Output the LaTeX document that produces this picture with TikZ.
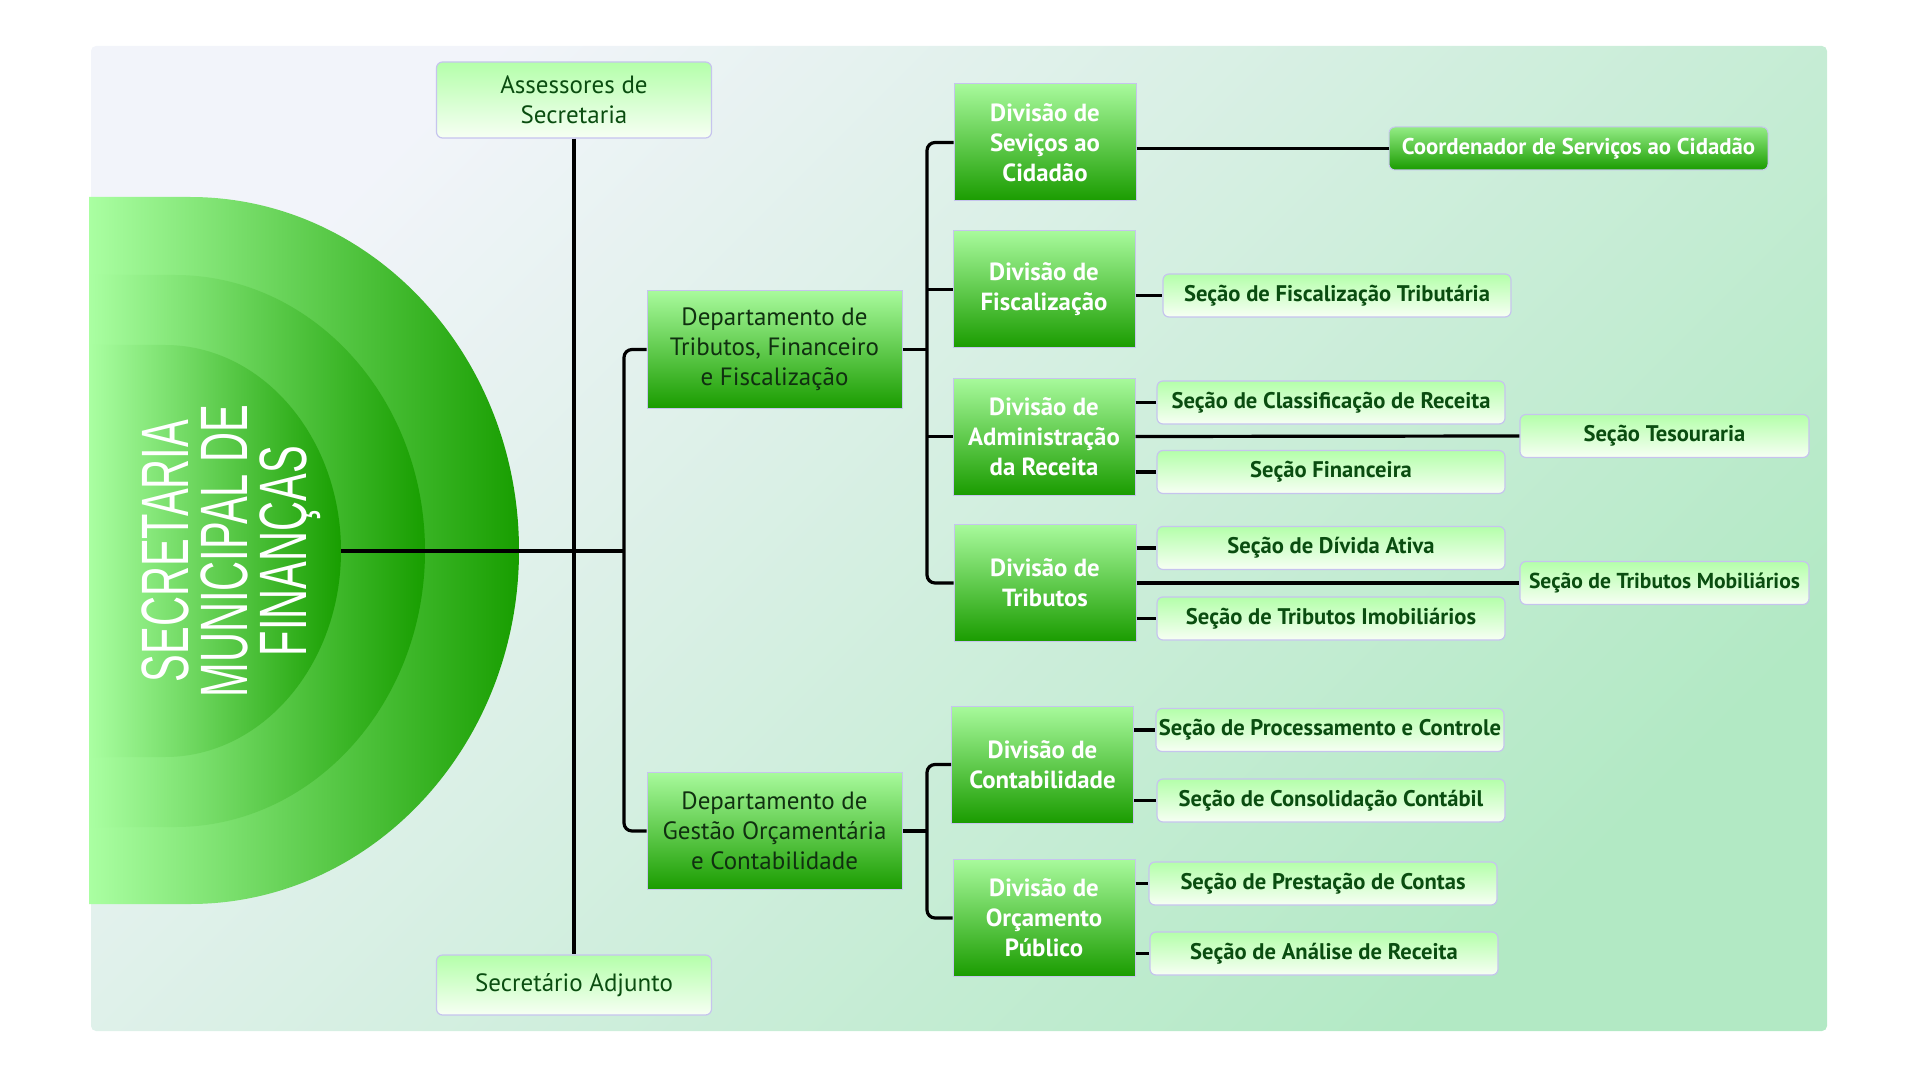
\documentclass[tikz,border=0pt]{standalone}
\usepackage{fontspec}
\setmainfont{PT Sans}
\newfontfamily\titlefont[FakeStretch=0.62]{Liberation Sans}
\definecolor{bgA}{HTML}{F2F4FA}
\definecolor{bgB}{HTML}{B2E9C4}
\definecolor{ringL}{HTML}{AAFFA2}
\definecolor{ringR}{HTML}{189E00}
\definecolor{gTop}{HTML}{A8FA9C}
\definecolor{gBot}{HTML}{1A9C00}
\definecolor{sTop}{HTML}{B4FFAA}
\definecolor{sBot}{HTML}{F7FFF4}
\definecolor{bordC}{HTML}{C6C4EE}
\definecolor{sText}{HTML}{0A4D10}
\definecolor{dText}{HTML}{103010}
\tikzset{
  conn/.style={draw=black, line width=1.6pt},
  rc/.style={rounded corners=4pt},
  lightbox/.style={draw=bordC, line width=0.6pt, rounded corners=3pt,
    top color=sTop, bottom color=sBot, text=sText, align=center, inner sep=0pt,
    font=\bfseries\fontsize{11.3}{14}\selectfont, minimum height=21.5pt},
  plainbox/.style={draw=bordC, line width=0.6pt, rounded corners=3pt,
    top color=sTop, bottom color=sBot, text=sText, align=center, inner sep=0pt,
    font=\fontsize{12.5}{15}\selectfont, minimum width=137.5pt},
  deptbox/.style={draw=bordC, line width=0.5pt, top color=gTop, bottom color=gBot,
    text=dText, align=center, inner sep=0pt, font=\fontsize{12.5}{15}\selectfont,
    minimum width=127.5pt, minimum height=58.5pt},
  divbox/.style={draw=bordC, line width=0.5pt, top color=gTop, bottom color=gBot,
    text=white, align=center, inner sep=0pt, font=\bfseries\fontsize{12.4}{15}\selectfont,
    minimum width=91pt, minimum height=58.5pt},
  coordbox/.style={draw=bordC, line width=0.5pt, rounded corners=3pt, top color=gTop!85!gBot, bottom color=gBot,
    text=white, align=center, inner sep=0pt, font=\bfseries\fontsize{11.4}{14}\selectfont,
    minimum width=189.5pt, minimum height=21.5pt},
}
\begin{document}
\begin{tikzpicture}[x=0.5pt,y=-0.5pt]
\useasboundingbox (0,0) rectangle (1920,1080);
\shade[rounded corners=2.5pt, top color=bgA, bottom color=bgB, shading angle=45] (91,46) rectangle (1827,1031);
% rings
\shade[left color=ringL, right color=ringR] (89,197) -- (190,197) arc[start angle=-90,end angle=90,x radius=329,y radius=353.5] -- (89,904) -- cycle;
\shade[left color=ringL, right color=ringR] (89,275) -- (175,275) arc[start angle=-90,end angle=90,x radius=250,y radius=276] -- (89,827) -- cycle;
\shade[left color=ringL, right color=ringR] (89,345) -- (165,345) arc[start angle=-90,end angle=90,x radius=176,y radius=206] -- (89,757) -- cycle;
\coordinate (hub) at (341,551);
\node[rotate=90, text=white, align=center, font=\titlefont\fontsize{33.5}{29.5}\selectfont] (title) at (231,551) {SECRETARIA\\MUNICIPAL DE\\FINANÇAS};
% nodes
\node[plainbox, minimum height=38pt] (asse) at (574,100) {Assessores de\\Secretaria};
\node[plainbox, minimum height=30pt] (secadj) at (574,985) {Secretário Adjunto};
\node[deptbox] (dep1) at (774.5,349.5) {Departamento de\\Tributos, Financeiro\\e Fiscalização};
\node[deptbox] (dep2) at (774.5,831) {Departamento de\\Gestão Orçamentária\\e Contabilidade};
\node[divbox] (div1) at (1045,142.5) {Divisão de\\Seviços ao\\Cidadão};
\node[divbox] (div2) at (1044,289.5) {Divisão de\\Fiscalização};
\node[divbox] (div3) at (1044,436.5) {Divisão de\\Administração\\da Receita};
\node[divbox] (div4) at (1045,583) {Divisão de\\Tributos};
\node[divbox] (div5) at (1042.5,764.5) {Divisão de\\Contabilidade};
\node[divbox] (div6) at (1044,918) {Divisão de\\Orçamento\\Público};
\node[coordbox] (coord) at (1578.5,148.5) {Coordenador de Serviços ao Cidadão};
\node[lightbox, minimum width=174pt] (sft) at (1337,295.5) {Seção de Fiscalização Tributária};
\node[lightbox, minimum width=174pt] (scr) at (1331,402.5) {Seção de Classificação de Receita};
\node[lightbox, minimum width=144.5pt] (stes) at (1664.5,436) {Seção Tesouraria};
\node[lightbox, minimum width=174pt] (sfin) at (1331,472) {Seção Financeira};
\node[lightbox, minimum width=174pt] (sda) at (1331,548) {Seção de Dívida Ativa};
\node[lightbox, minimum width=144.5pt, font=\bfseries\fontsize{10.8}{13}\selectfont] (stm) at (1664.5,583) {Seção de Tributos Mobiliários};
\node[lightbox, minimum width=174pt] (sti) at (1331,618.5) {Seção de Tributos Imobiliários};
\node[lightbox, minimum width=174pt] (spc) at (1330,730) {Seção de Processamento e Controle};
\node[lightbox, minimum width=174pt] (scc) at (1331,800.5) {Seção de Consolidação Contábil};
\node[lightbox, minimum width=174pt] (spr) at (1323,883.5) {Seção de Prestação de Contas};
\node[lightbox, minimum width=174pt] (sar) at (1324,953.5) {Seção de Análise de Receita};
% connectors
\coordinate (bus0) at (624,551);
\coordinate (bus1) at (927,0);
\draw[conn] (asse.south) -- (secadj.north);
\draw[conn] (hub) -- (bus0);
\draw[conn, rc] (dep1.west) -- (bus0 |- dep1.west) -- (bus0 |- dep2.west) -- (dep2.west);
\draw[conn] (dep1.east) -- (bus1 |- dep1.east);
\draw[conn, rc] (div1.west) -- (bus1 |- div1.west) -- (bus1 |- div4.west) -- (div4.west);
\draw[conn] (bus1 |- div2.west) -- (div2.west);
\draw[conn] (bus1 |- div3.west) -- (div3.west);
\draw[conn] (dep2.east) -- (bus1 |- dep2.east);
\draw[conn, rc] (div5.west) -- (bus1 |- div5.west) -- (bus1 |- div6.west) -- (div6.west);
\draw[conn] (div1.east |- coord.west) -- (coord.west);
\draw[conn] (div2.east |- sft.west) -- (sft.west);
\draw[conn] (div3.east |- scr.west) -- (scr.west);
\draw[conn] (div3.east) -- (stes.west);
\draw[conn] (div3.east |- sfin.west) -- (sfin.west);
\draw[conn] (div4.east |- sda.west) -- (sda.west);
\draw[conn] (div4.east) -- (stm.west);
\draw[conn] (div4.east |- sti.west) -- (sti.west);
\draw[conn] (div5.east |- spc.west) -- (spc.west);
\draw[conn] (div5.east |- scc.west) -- (scc.west);
\draw[conn] (div6.east |- spr.west) -- (spr.west);
\draw[conn] (div6.east |- sar.west) -- (sar.west);
\end{tikzpicture}
\end{document}
